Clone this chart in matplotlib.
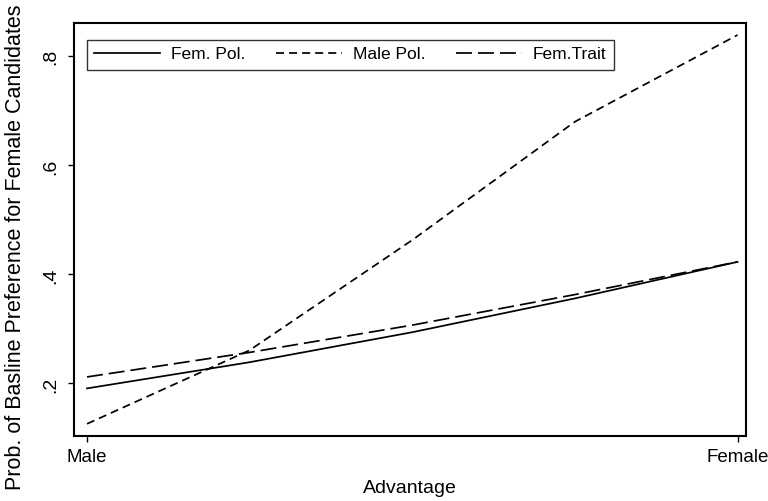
import matplotlib
matplotlib.use("Agg")
import matplotlib.pyplot as plt

# Predicted probabilities across the advantage scale (0 = Male, 1 = Female)
advantage = [0.0, 0.25, 0.5, 0.75, 1.0]
fem_pol = [0.190, 0.238, 0.293, 0.355, 0.422]
male_pol = [0.125, 0.260, 0.462, 0.679, 0.838]
fem_trait = [0.211, 0.256, 0.306, 0.362, 0.422]

xtick_pos = [0, 1]
xtick_labels = ["Male", "Female"]
ytick_pos = [0.2, 0.4, 0.6, 0.8]
ytick_labels = [".2", ".4", ".6", ".8"]

plt.rcParams["font.family"] = ["Liberation Sans", "DejaVu Sans"]
plt.rcParams["lines.scale_dashes"] = False

fig = plt.figure(figsize=(7.68, 5.01), dpi=100)
ax = fig.add_axes([74 / 768, 1 - 436 / 501, 672 / 768, 413 / 501])

lw = 1.25
ax.plot(advantage, fem_pol, color="black", lw=lw, ls="-", label="Fem. Pol.")
ax.plot(advantage, male_pol, color="black", lw=lw, ls=(0, (5.8, 3.6)), label="Male Pol.")
ax.plot(advantage, fem_trait, color="black", lw=lw, ls=(0, (11.5, 4.3)), label="Fem.Trait")

ax.set_xlim(-0.02, 1.013)
ax.set_ylim(0.1027, 0.86)

ax.set_xticks(xtick_pos)
ax.set_xticklabels(xtick_labels, fontsize=13.5)
ax.set_yticks(ytick_pos)
ax.set_yticklabels(ytick_labels, fontsize=14)
ax.tick_params(axis="y", labelrotation=90, length=4.5, width=1.0, pad=6)
ax.tick_params(axis="x", length=4.5, width=1.0, pad=5)

for side in ax.spines.values():
    side.set_linewidth(1.5)

ax.set_xlabel("Advantage", fontsize=14, labelpad=10)
ax.set_ylabel("Prob. of Basline Preference for Female Candidates", fontsize=15.5)
ax.yaxis.label.set_verticalalignment("center")
ax.yaxis.set_label_coords((16 - 74) / 672, (436 - 247.5) / 413)

leg = ax.legend(loc="upper left", bbox_to_anchor=((87 - 74) / 672, 1 - (40 - 23) / 413),
                ncol=3, frameon=True, fancybox=False, fontsize=12.5,
                handlelength=3.8, handletextpad=0.6, columnspacing=1.8,
                borderpad=0.42, borderaxespad=0.0)
leg.get_frame().set_edgecolor("black")
leg.get_frame().set_linewidth(1.0)

fig.savefig("out.png", dpi=100)
